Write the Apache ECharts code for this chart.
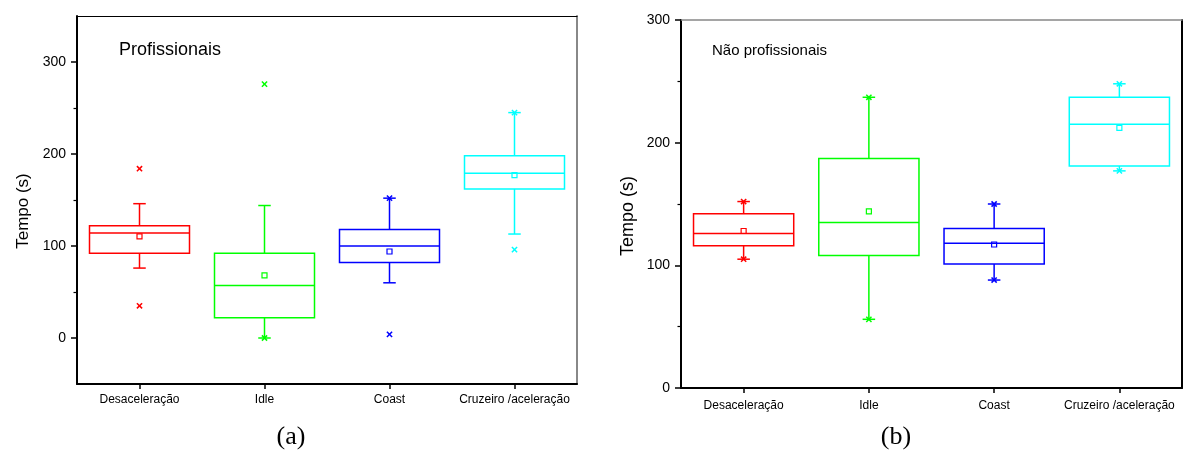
<!DOCTYPE html>
<html><head><meta charset="utf-8">
<script src="https://cdn.jsdelivr.net/npm/echarts@6/dist/echarts.min.js"></script>
<style>html,body{margin:0;padding:0;background:#fff}#c{width:1183px;height:454px}</style>
</head><body><div id="c"></div>
<script>
// Categories and colours
const categories = ['Desaceleração', 'Idle', 'Coast', 'Cruzeiro /aceleração'];
const boxColors = ['#FF0000', '#00FF00', '#0000FF', '#00FFFF'];

// (a) Profissionais
const proWhiskerLow  = [76, 0, 60, 113];
const proQ1          = [92, 22, 82, 162];
const proMedian      = [114, 57, 100, 179];
const proQ3          = [122, 92, 118, 198];
const proWhiskerHigh = [146, 144, 152, 245];
const proMean        = [110.5, 68, 94, 177];
const proP1          = [35, 0, 4, 96];
const proP99         = [184, 276, 152, 245];
const proMajorTicks  = [0, 100, 200, 300];
const proMinorTicks  = [50, 150, 250];

// (b) Não profissionais
const naoWhiskerLow  = [105, 56, 88, 177];
const naoQ1          = [116, 108, 101, 181];
const naoMedian      = [126, 135, 118, 215];
const naoQ3          = [142, 187, 130, 237];
const naoWhiskerHigh = [152, 237, 150, 248];
const naoMean        = [128, 144, 117, 212];
const naoP1          = [105, 56, 88, 177];
const naoP99         = [152, 237, 150, 248];
const naoMajorTicks  = [0, 100, 200, 300];
const naoMinorTicks  = [50, 150, 250];

function rows(low, q1, med, q3, high, mean, p1, p99) {
  return categories.map((c, i) => [i, low[i], q1[i], med[i], q3[i], high[i], mean[i], p1[i], p99[i]]);
}

const FONT = '"Liberation Sans", Arial, sans-serif';

function renderBox(params, api) {
  const i = api.value(0);
  const c = boxColors[i];
  const band = api.size([1, 0])[0];
  const x = api.coord([i, 0])[0];
  const y = v => api.coord([i, v])[1];
  const bw = band * 0.8, cw = band * 0.1;
  const low = api.value(1), q1 = api.value(2), med = api.value(3), q3 = api.value(4),
        high = api.value(5), mean = api.value(6), p1 = api.value(7), p99 = api.value(8);
  const ls = { stroke: c, lineWidth: 1.5, fill: null };
  const line = (x1, y1, x2, y2) => ({ type: 'line', shape: { x1, y1, x2, y2 }, style: ls });
  const cross = (v) => {
    const cy = y(v), s = 2.6;
    return [line(x - s, cy - s, x + s, cy + s), line(x - s, cy + s, x + s, cy - s)];
  };
  const children = [
    { type: 'rect', shape: { x: x - bw / 2, y: y(q3), width: bw, height: y(q1) - y(q3) }, style: { stroke: c, lineWidth: 1.5, fill: 'none' } },
    line(x - bw / 2, y(med), x + bw / 2, y(med)),
    line(x, y(q3), x, y(high)),
    line(x, y(q1), x, y(low)),
    line(x - cw / 2, y(high), x + cw / 2, y(high)),
    line(x - cw / 2, y(low), x + cw / 2, y(low)),
    { type: 'rect', shape: { x: x - 2.5, y: y(mean) - 2.5, width: 5, height: 5 }, style: { stroke: c, lineWidth: 1.2, fill: 'none' } }
  ].concat(cross(p1), cross(p99));
  return { type: 'group', children };
}

function yAxes(g, min, max, majors, minors, rightBlack) {
  return [
    { gridIndex: g, type: 'value', min, max, position: 'left',
      axisLine: { show: true, onZero: false, lineStyle: { color: '#000', width: 2 } },
      axisTick: { show: true, length: 6, customValues: majors, lineStyle: { color: '#000', width: 1.5 } },
      axisLabel: { show: true, customValues: majors, fontSize: 14, margin: 11, color: '#000', fontFamily: FONT },
      splitLine: { show: false } },
    { gridIndex: g, type: 'value', min, max, position: 'left',
      axisLine: { show: false, onZero: false },
      axisTick: { show: true, length: 3.5, customValues: minors, lineStyle: { color: '#000', width: 1.2 } },
      axisLabel: { show: false }, splitLine: { show: false } },
    { gridIndex: g, type: 'value', min, max, position: 'right',
      axisLine: { show: true, onZero: false, lineStyle: rightBlack ? { color: '#000', width: 2 } : { color: '#888', width: 2 } },
      axisTick: { show: false }, axisLabel: { show: false }, splitLine: { show: false } }
  ];
}
function xAxes(g, margin, topBlack) {
  return [
    { gridIndex: g, type: 'category', data: categories, boundaryGap: true, position: 'bottom',
      axisLine: { show: true, onZero: false, lineStyle: { color: '#000', width: 2 } },
      axisTick: { show: true, alignWithLabel: true, length: 5, lineStyle: { color: '#000', width: 1.5 } },
      axisLabel: { fontSize: 12, margin, color: '#000', fontFamily: FONT, interval: 0 } },
    { gridIndex: g, type: 'category', data: categories, boundaryGap: true, position: 'top',
      axisLine: { show: true, onZero: false, lineStyle: topBlack ? { color: '#000', width: 1.2 } : { color: '#888', width: 1.5 } },
      axisTick: { show: false }, axisLabel: { show: false } }
  ];
}

const chart = echarts.init(document.getElementById('c'), null, { renderer: 'canvas' });
chart.setOption({
  animation: false,
  backgroundColor: '#fff',
  grid: [
    { left: 77, top: 16, width: 500, height: 368 },
    { left: 681, top: 20, width: 501, height: 368 }
  ],
  xAxis: xAxes(0, 10, true).concat(xAxes(1, 12, false)),
  yAxis: yAxes(0, -50, 350, proMajorTicks, proMinorTicks, false).concat(yAxes(1, 0, 300, naoMajorTicks, naoMinorTicks, true)),
  series: [
    { type: 'custom', xAxisIndex: 0, yAxisIndex: 0, renderItem: renderBox,
      data: rows(proWhiskerLow, proQ1, proMedian, proQ3, proWhiskerHigh, proMean, proP1, proP99),
      encode: { x: 0, y: [1, 2, 3, 4, 5, 6, 7, 8] } },
    { type: 'custom', xAxisIndex: 2, yAxisIndex: 3, renderItem: renderBox,
      data: rows(naoWhiskerLow, naoQ1, naoMedian, naoQ3, naoWhiskerHigh, naoMean, naoP1, naoP99),
      encode: { x: 0, y: [1, 2, 3, 4, 5, 6, 7, 8] } }
  ],
  graphic: [
    { type: 'text', left: 119, top: 41, style: { text: 'Profissionais', fontSize: 18, fontFamily: FONT, fill: '#000' } },
    { type: 'text', left: 712, top: 43, style: { text: 'Não profissionais', fontSize: 15, fontFamily: FONT, fill: '#000' } },
    { type: 'text', x: 23, y: 211, rotation: Math.PI / 2, style: { text: 'Tempo (s)', fontSize: 17, fontFamily: FONT, fill: '#000', align: 'center', verticalAlign: 'middle' } },
    { type: 'text', x: 628, y: 216, rotation: Math.PI / 2, style: { text: 'Tempo (s)', fontSize: 18, fontFamily: FONT, fill: '#000', align: 'center', verticalAlign: 'middle' } },
    { type: 'text', x: 291, y: 437, style: { text: '(a)', fontSize: 26, fontFamily: '"Liberation Serif", "Times New Roman", serif', fill: '#000', align: 'center', verticalAlign: 'middle' } },
    { type: 'text', x: 896, y: 437, style: { text: '(b)', fontSize: 26, fontFamily: '"Liberation Serif", "Times New Roman", serif', fill: '#000', align: 'center', verticalAlign: 'middle' } }
  ]
});
</script>
</body></html>
